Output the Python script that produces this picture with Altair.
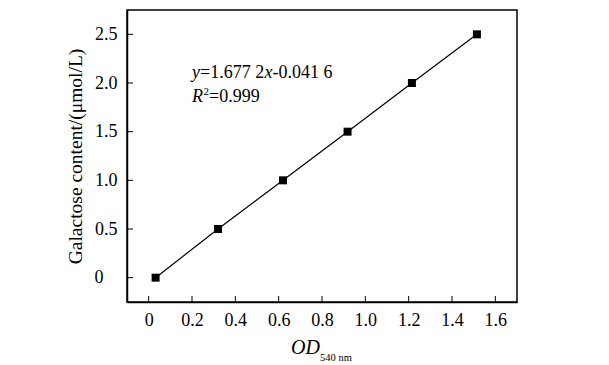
import altair as alt
import pandas as pd

# ---- data ----
od = [0.032, 0.32, 0.62, 0.918, 1.215, 1.515]
gal = [0.0, 0.5, 1.0, 1.5, 2.0, 2.5]
x_ticks = [0, 0.2, 0.4, 0.6, 0.8, 1.0, 1.2, 1.4, 1.6]
y_ticks = [0, 0.5, 1.0, 1.5, 2.0, 2.5]
y_title = "Galactose content/(μmol/L)"
eq_x = 0.2
eq_y1 = 2.05
eq_y2 = 1.80

FONT = "Liberation Serif"
FS = 18
W, H = 390, 292

df = pd.DataFrame({"od": od, "gal": gal})
xs = alt.Scale(domain=[-0.1, 1.7], nice=False, zero=False)
ys = alt.Scale(domain=[-0.25, 2.75], nice=False, zero=False)
label_expr = "datum.value == 0 ? '0' : format(datum.value, '.1f')"

x_axis = alt.Axis(values=x_ticks, labelExpr=label_expr, grid=False, ticks=False,
                  title=None, labelPadding=9, labelFontSize=FS, labelFont=FONT,
                  labelColor="black", domainColor="black", domainWidth=1.5)
y_axis = alt.Axis(values=y_ticks, labelExpr=label_expr, grid=False, ticks=False,
                  title=y_title, titleFont=FONT, titleFontSize=19.5, titleFontWeight="normal",
                  titleColor="black", titlePadding=9,
                  labelPadding={"condition": {"test": "datum.value == 0", "value": 24}, "value": 10},
                  labelFontSize=FS, labelFont=FONT, labelColor="black",
                  domainColor="black", domainWidth=1.5)

X = alt.X("od:Q", scale=xs, axis=x_axis)
Y = alt.Y("gal:Q", scale=ys, axis=y_axis)

base = alt.Chart(df)
line = base.mark_line(color="black", strokeWidth=1.2).encode(x=X, y=Y)
pts = base.mark_square(size=64, color="black", opacity=1).encode(x=X, y=Y)

xt = alt.Chart(pd.DataFrame({"od": x_ticks})).mark_rule(color="black", strokeWidth=1).encode(
    x=X, y=alt.value(H), y2=alt.value(H - 6)
)
yt = alt.Chart(pd.DataFrame({"gal": y_ticks})).mark_rule(color="black", strokeWidth=1).encode(
    y=Y, x=alt.value(0), x2=alt.value(6)
)


def piece(s, xv, yv, dx, italic=False, size=FS, dy=0):
    return alt.Chart(pd.DataFrame({"od": [xv], "gal": [yv], "s": [s]})).mark_text(
        align="left", baseline="alphabetic", dx=dx, dy=dy, font=FONT, fontSize=size,
        fontStyle="italic" if italic else "normal", color="black"
    ).encode(x=X, y=Y, text="s:N")


eq = [
    piece("y", eq_x, eq_y1, 0, True),
    piece("=1.677 2", eq_x, eq_y1, 8, False),
    piece("x", eq_x, eq_y1, 72.5, True),
    piece("-0.041 6", eq_x, eq_y1, 80.5, False),
    piece("R", eq_x, eq_y2, 0, True),
    piece("2", eq_x, eq_y2, 11.5, False, 11, -7),
    piece("=0.999", eq_x, eq_y2, 17, False),
]

od_title = alt.Chart(pd.DataFrame({"s": ["OD"]})).mark_text(
    align="left", baseline="alphabetic", font=FONT, fontSize=20, fontStyle="italic", color="black"
).encode(x=alt.value(164), y=alt.value(344), text="s:N")
sub_title = alt.Chart(pd.DataFrame({"s": ["540 nm"]})).mark_text(
    align="left", baseline="alphabetic", font=FONT, fontSize=10.5, color="black"
).encode(x=alt.value(193), y=alt.value(350.5), text="s:N")

chart = alt.layer(line, pts, xt, yt, *eq, od_title, sub_title).properties(
    width=W, height=H, autosize="none",
    padding={"left": 119, "top": 2, "right": 84, "bottom": 60},
).configure_view(stroke="black", strokeWidth=1.5)

chart.save("out.html", embed_options={"renderer": "svg", "actions": False})
